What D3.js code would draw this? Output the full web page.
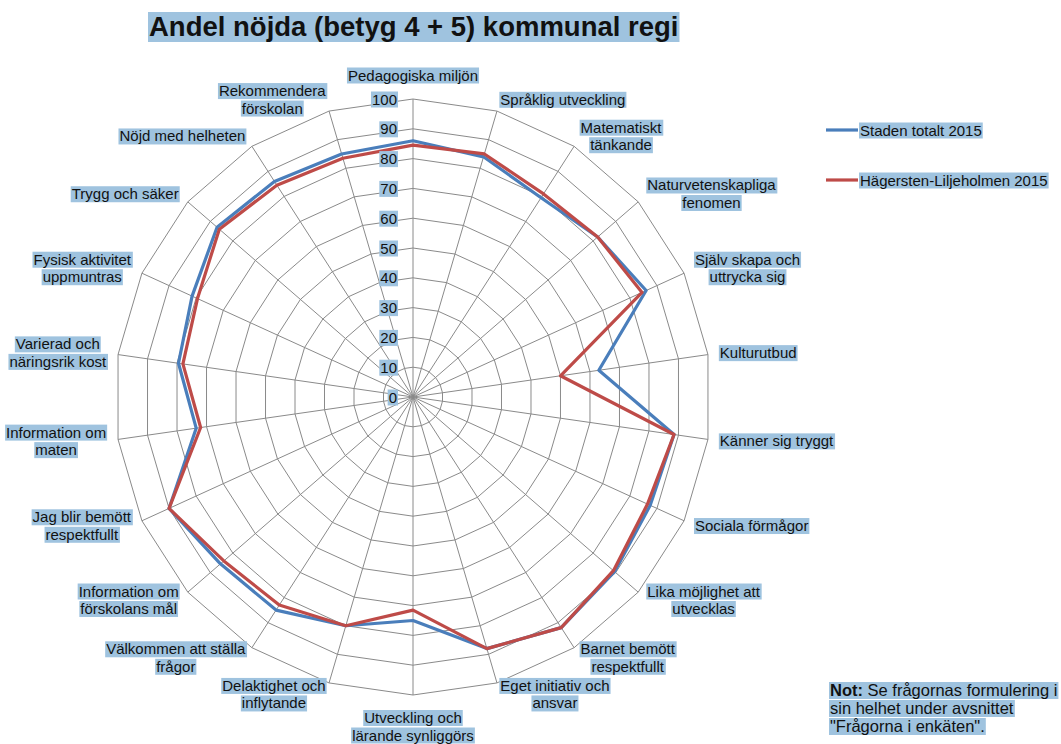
<!DOCTYPE html>
<html><head><meta charset="utf-8">
<script src="https://cdn.jsdelivr.net/npm/d3@7"></script>
<style>body{margin:0;background:#fff;overflow:hidden} text{font-family:"Liberation Sans",Arial,sans-serif;}</style>
</head><body><svg id="c" width="1061" height="744"></svg>
<script>
const titleText = "Andel nöjda (betyg 4 + 5) kommunal regi";
const categories = [
  "Pedagogiska miljön",
  "Språklig utveckling",
  "Matematiskt\ntänkande",
  "Naturvetenskapliga\nfenomen",
  "Själv skapa och\nuttrycka sig",
  "Kulturutbud",
  "Känner sig tryggt",
  "Sociala förmågor",
  "Lika möjlighet att\nutvecklas",
  "Barnet bemött\nrespektfullt",
  "Eget initiativ och\nansvar",
  "Utveckling och\nlärande synliggörs",
  "Delaktighet och\ninflytande",
  "Välkommen att ställa\nfrågor",
  "Information om\nförskolans mål",
  "Jag blir bemött\nrespektfullt",
  "Information om\nmaten",
  "Varierad och\nnäringsrik kost",
  "Fysisk aktivitet\nuppmuntras",
  "Trygg och säker",
  "Nöjd med helheten",
  "Rekommendera\nförskolan"
];
const stadenTotalt = [86, 84, 79.5, 82, 86, 63, 88.5, 87.5, 89.5, 92, 88, 75, 80, 85, 85.5, 90, 73.5, 79.5, 81.5, 87, 86, 85];
const hagerstenLiljeholmen = [84.5, 85, 81, 82, 84.5, 50, 88.5, 86.5, 89, 92, 88, 71.5, 80, 83, 84, 90, 72, 78, 79.5, 86, 84.5, 83.5];
const seriesNames = ["Staden totalt 2015", "Hägersten-Liljeholmen 2015"];
const seriesColors = ["#4a7ebb", "#be4b48"];
const tickValues = [0, 10, 20, 30, 40, 50, 60, 70, 80, 90, 100];
const noteLines = [["Not:", " Se frågornas formulering i"], ["", "sin helhet under avsnittet"], ["", "\"Frågorna i enkäten\"."]];

const HL = "#9fc3df";
const FS = 15;
const svg = d3.select("#c");
const cx = 413, cy = 397, R = 298;
const r = d3.scaleLinear().domain([0, 100]).range([0, R]);
const n = categories.length;
const ang = d3.scaleLinear().domain([0, n]).range([0, 2 * Math.PI]);

function hlText(g, x, y, str, opts) {
  opts = opts || {};
  const t = g.append("text").attr("x", x).attr("y", y)
    .attr("font-size", opts.size || FS)
    .attr("font-weight", opts.weight || "normal")
    .attr("fill", "#111")
    .attr("text-anchor", opts.anchor || "start")
    .text(str);
  const b = t.node().getBBox();
  const pt = opts.padTop == null ? 1 : opts.padTop;
  g.insert("rect", "text").attr("x", b.x - 1).attr("y", b.y + pt)
    .attr("width", b.width + 2).attr("height", b.height - pt - (opts.padBot || 0))
    .attr("fill", HL);
  return t;
}

// Title
const tg = svg.append("g");
hlText(tg, 149, 36, titleText, {size: 27.5, weight: "bold", padTop: 1});

const plot = svg.append("g").attr("transform", `translate(${cx},${cy})`);

const gridLine = d3.lineRadial().curve(d3.curveLinearClosed)
  .angle((d, i) => ang(i)).radius(d => r(d));
tickValues.filter(t => t > 0).forEach(t => {
  plot.append("path").attr("d", gridLine(d3.range(n).map(() => t)))
    .attr("fill", "none").attr("stroke", "#8a8a8a").attr("stroke-width", 1);
});
d3.range(n).forEach(i => {
  const a = ang(i);
  plot.append("line").attr("x1", 0).attr("y1", 0)
    .attr("x2", r(100) * Math.sin(a)).attr("y2", -r(100) * Math.cos(a))
    .attr("stroke", "#8a8a8a").attr("stroke-width", 1);
});

const tickG = svg.append("g");
tickValues.forEach(t => {
  hlText(tickG, cx - 16, cy - r(t) + 5.5, String(t), {anchor: "end"});
});

const seriesLine = d3.lineRadial().curve(d3.curveLinearClosed)
  .angle((d, i) => ang(i)).radius(d => r(d));
[stadenTotalt, hagerstenLiljeholmen].forEach((vals, k) => {
  plot.append("path").attr("d", seriesLine(vals))
    .attr("fill", "none").attr("stroke", seriesColors[k]).attr("stroke-width", 3.2)
    .attr("stroke-linejoin", "round");
});

const labG = svg.append("g");
const lh = 17.5;
categories.forEach((c, i) => {
  const a = ang(i);
  const s = Math.sin(a), co = Math.cos(a);
  const lines = c.split("\n");
  const g = labG.append("g");
  const tmp = g.append("text").attr("font-size", FS);
  const widths = lines.map(l => { tmp.text(l); return tmp.node().getComputedTextLength(); });
  tmp.remove();
  const w = d3.max(widths), h = lines.length * lh;
  const rr = R + 12;
  const px = cx + rr * s, py = cy - rr * co;
  let boxL, boxT;
  if (Math.abs(s) < 0.01) {
    boxL = px - w / 2;
    boxT = co > 0 ? cy - R - 15 - h : cy + R + 14;
  } else {
    boxL = s > 0 ? px : px - w;
    boxT = py - h / 2;
  }
  lines.forEach((l, j) => {
    hlText(g, boxL + w / 2, boxT + j * lh + 14, l, {anchor: "middle"});
  });
});

const lg = svg.append("g");
seriesNames.forEach((nm, k) => {
  const y = 130 + k * 50;
  lg.append("line").attr("x1", 826).attr("x2", 858).attr("y1", y).attr("y2", y)
    .attr("stroke", seriesColors[k]).attr("stroke-width", 3.2);
  hlText(lg, 860, y + 5.5, nm);
});

const ng = svg.append("g");
noteLines.forEach((ln, j) => {
  const y = 696 + j * 18;
  const t = ng.append("text").attr("x", 830).attr("y", y).attr("font-size", 16.5).attr("fill", "#111");
  if (ln[0]) t.append("tspan").attr("font-weight", "bold").text(ln[0]);
  t.append("tspan").text(ln[1]);
  const b = t.node().getBBox();
  ng.insert("rect", "text").attr("x", b.x - 1).attr("y", b.y + 1).attr("width", b.width + 2).attr("height", b.height - 1).attr("fill", HL);
});
</script>
</body></html>
